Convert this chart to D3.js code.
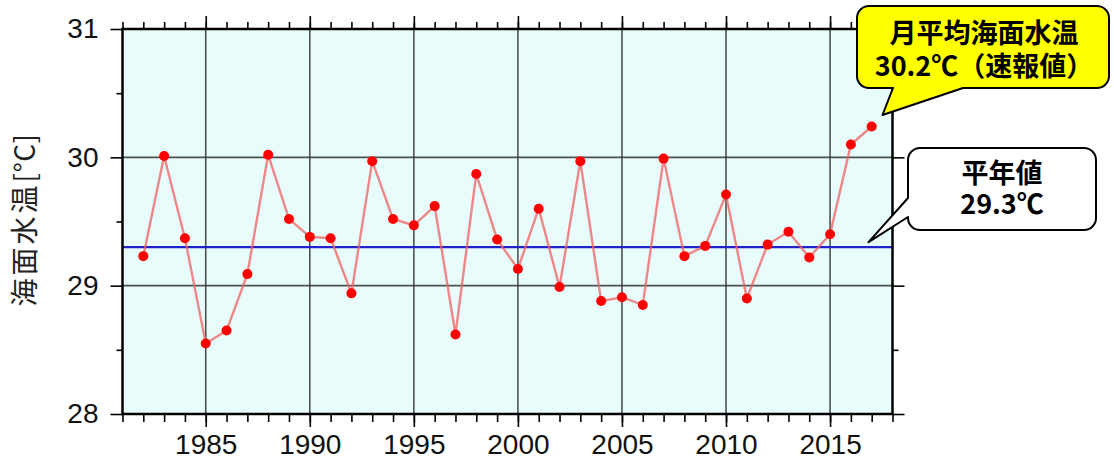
<!DOCTYPE html>
<html><head><meta charset="utf-8">
<script src="https://cdn.jsdelivr.net/npm/d3@7"></script>
<style>
html,body{margin:0;padding:0;background:#fff;}
svg{display:block;}
</style>
</head><body>
<svg id="chart" width="1114" height="460"></svg>
<script>
const years = [1982,1983,1984,1985,1986,1987,1988,1989,1990,1991,1992,1993,1994,1995,1996,1997,1998,1999,2000,2001,2002,2003,2004,2005,2006,2007,2008,2009,2010,2011,2012,2013,2014,2015,2016,2017];
const sst = [29.23,30.01,29.37,28.55,28.65,29.09,30.02,29.52,29.38,29.37,28.94,29.97,29.52,29.47,29.62,28.62,29.87,29.36,29.13,29.60,28.99,29.97,28.88,28.91,28.85,29.99,29.23,29.31,29.71,28.90,29.32,29.42,29.22,29.40,30.10,30.24];
const normalValue = 29.3;
const xMajorTicks = [1985,1990,1995,2000,2005,2010,2015];
const xMinorTicks = [1981,1982,1983,1984,1985,1986,1987,1988,1989,1990,1991,1992,1993,1994,1995,1996,1997,1998,1999,2000,2001,2002,2003,2004,2005,2006,2007,2008,2009,2010,2011,2012,2013,2014,2015,2016,2017,2018];
const yMajorTicks = [28,29,30,31];
const yMinorTicks = [28.5,29.5,30.5];
const yGrid = [29,30];
const yAxisTitleMain = "海面水温";
const yAxisTitleUnit = "[°C]";
const calloutLatest = ["月平均海面水温","30.2℃（速報値）"];
const calloutNormal = ["平年値","29.3℃"];

const svg = d3.select("#chart");
const L = 122.5, R = 892.5, T = 29, B = 414;
const x = d3.scaleLinear().domain([1981, 2018]).range([L, R]);
const y = d3.scaleLinear().domain([28, 31]).range([B, T]);

// background
svg.append("rect").attr("x", L).attr("y", T).attr("width", R - L).attr("height", B - T).attr("fill", "#e8fcfc");

// grid
const g = svg.append("g");
g.selectAll(".vg").data(xMajorTicks).join("line")
  .attr("x1", d => x(d)).attr("x2", d => x(d)).attr("y1", T).attr("y2", B)
  .attr("stroke", "#333").attr("stroke-opacity", 0.85).attr("stroke-width", 1.6);
g.selectAll(".hg").data(yGrid).join("line")
  .attr("x1", L).attr("x2", R).attr("y1", d => y(d)).attr("y2", d => y(d))
  .attr("stroke", "#333").attr("stroke-opacity", 0.85).attr("stroke-width", 1.6);

// normal line
svg.append("line").attr("x1", L).attr("x2", R).attr("y1", y(normalValue)).attr("y2", y(normalValue))
  .attr("stroke", "#2020cc").attr("stroke-width", 2.4);

// series
const pts = years.map((yr, i) => [yr, sst[i]]);
svg.append("path").datum(pts)
  .attr("d", d3.line().x(d => x(d[0])).y(d => y(d[1])))
  .attr("fill", "none").attr("stroke", "#f06060").attr("stroke-opacity", 0.75).attr("stroke-width", 2.4);
svg.selectAll(".dot").data(pts).join("circle")
  .attr("cx", d => x(d[0])).attr("cy", d => y(d[1])).attr("r", 5)
  .attr("fill", "#ff0000");

// frame
svg.append("rect").attr("x", L).attr("y", T).attr("width", R - L).attr("height", B - T)
  .attr("fill", "none").attr("stroke", "#000").attr("stroke-width", 2.5);

function styleAxis(sel) {
  sel.select(".domain").remove();
  sel.selectAll(".tick line").attr("stroke", "#000").attr("stroke-width", 1.6);
  sel.selectAll(".tick text").attr("fill", "#111").style("font-family", "'Liberation Sans', Arial, sans-serif").style("font-size", "28px");
}
// bottom
svg.append("g").attr("transform", `translate(0,${B})`)
  .call(d3.axisBottom(x).tickValues(xMinorTicks).tickSize(8).tickFormat("")).call(styleAxis);
svg.append("g").attr("transform", `translate(0,${B})`)
  .call(d3.axisBottom(x).tickValues(xMajorTicks).tickSize(13).tickPadding(7).tickFormat(d3.format("d"))).call(styleAxis);
// top
svg.append("g").attr("transform", `translate(0,${T})`)
  .call(d3.axisTop(x).tickValues(xMinorTicks).tickSize(7).tickFormat("")).call(styleAxis);
svg.append("g").attr("transform", `translate(0,${T})`)
  .call(d3.axisTop(x).tickValues(xMajorTicks).tickSize(13).tickFormat("")).call(styleAxis);
// left
svg.append("g").attr("transform", `translate(${L},0)`)
  .call(d3.axisLeft(y).tickValues(yMinorTicks).tickSize(6).tickFormat("")).call(styleAxis);
svg.append("g").attr("transform", `translate(${L},0)`)
  .call(d3.axisLeft(y).tickValues(yMajorTicks).tickSize(12).tickPadding(12).tickFormat(d3.format("d"))).call(styleAxis);
// right
svg.append("g").attr("transform", `translate(${R},0)`)
  .call(d3.axisRight(y).tickValues(yMinorTicks).tickSize(6).tickFormat("")).call(styleAxis);
svg.append("g").attr("transform", `translate(${R},0)`)
  .call(d3.axisRight(y).tickValues(yMajorTicks).tickSize(12).tickFormat("")).call(styleAxis);

// y title
const yt = svg.append("text").attr("transform", "translate(35,220) rotate(-90)")
  .attr("text-anchor", "middle").attr("fill", "#222")
  .style("font-family", "'Noto Sans CJK JP', sans-serif").style("font-size", "28px");
yt.append("tspan").style("letter-spacing", "3px").text(yAxisTitleMain);
yt.append("tspan").style("letter-spacing", "0.5px").text(yAxisTitleUnit);

// callouts
function callout(box, wedge, fill, lines, baselines) {
  const {x0, y0, x1, y1, r} = box;
  let p = d3.path();
  if (wedge.side === "bottom") {
    p.moveTo(x0 + r, y0); p.lineTo(x1 - r, y0); p.arcTo(x1, y0, x1, y0 + r, r);
    p.lineTo(x1, y1 - r); p.arcTo(x1, y1, x1 - r, y1, r);
    p.lineTo(wedge.b2, y1); p.lineTo(wedge.tx, wedge.ty); p.lineTo(wedge.b1, y1);
    p.lineTo(x0 + r, y1); p.arcTo(x0, y1, x0, y1 - r, r);
    p.lineTo(x0, y0 + r); p.arcTo(x0, y0, x0 + r, y0, r); p.closePath();
  } else {
    p.moveTo(x0 + r, y0); p.lineTo(x1 - r, y0); p.arcTo(x1, y0, x1, y0 + r, r);
    p.lineTo(x1, y1 - r); p.arcTo(x1, y1, x1 - r, y1, r);
    p.lineTo(x0 + r, y1); p.arcTo(x0, y1, x0, y1 - r, r);
    p.lineTo(x0, wedge.b2); p.lineTo(wedge.tx, wedge.ty); p.lineTo(x0, wedge.b1);
    p.lineTo(x0, y0 + r); p.arcTo(x0, y0, x0 + r, y0, r); p.closePath();
  }
  svg.append("path").attr("d", p.toString()).attr("fill", fill).attr("stroke", "#000").attr("stroke-width", 2).attr("stroke-linejoin", "round");
  const cx = (x0 + x1) / 2;
  lines.forEach((t, i) => {
    svg.append("text").attr("x", cx + (box.dx || 0)).attr("y", baselines[i]).attr("text-anchor", "middle")
      .attr("fill", "#000").style("font-family", "'Noto Sans CJK JP', sans-serif").style("font-weight", "bold")
      .style("font-size", "27px").text(t);
  });
}
callout({x0: 857, y0: 6, x1: 1109, y1: 88, r: 12, dx: 1},
  {side: "bottom", b1: 893, b2: 963, tx: x(2018) - 10, ty: 115}, "#ffff00", calloutLatest, [43, 76]);
callout({x0: 908, y0: 148, x1: 1096, y1: 230, r: 12, dx: 0},
  {side: "left", b1: 198, b2: 217, tx: x(2018) - 24, ty: y(normalValue) - 5}, "#ffffff", calloutNormal, [183, 214]);
</script>
</body></html>
